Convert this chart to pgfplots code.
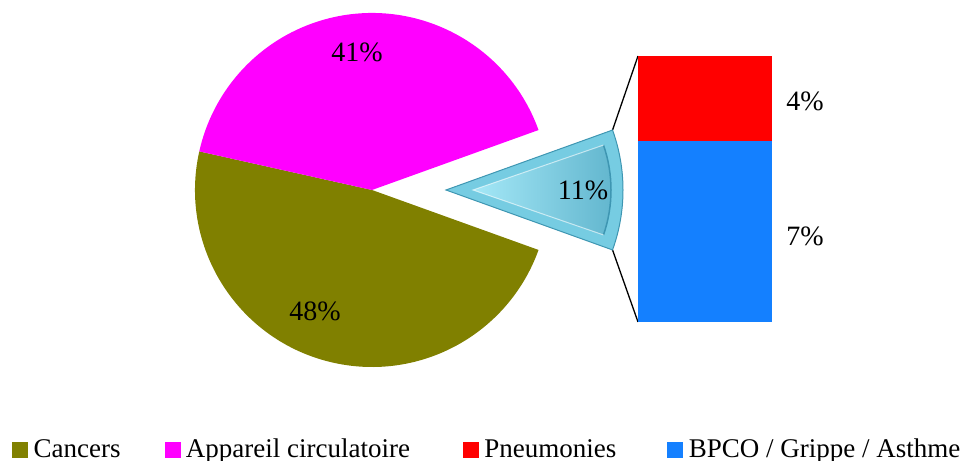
\documentclass[border=0pt]{standalone}
\usepackage{fontspec}
\setmainfont{Liberation Serif}
\usepackage{pgfplots}
\usepackage{pgfplotstable}
\pgfplotsset{compat=1.18}
\definecolor{cOlive}{RGB}{128,128,0}
\definecolor{cMag}{RGB}{255,0,255}
\definecolor{cRed}{RGB}{255,0,0}
\definecolor{cBlue}{RGB}{20,128,255}
\definecolor{cCyan}{RGB}{118,204,226}
\definecolor{cCyanD}{RGB}{62,150,178}
\definecolor{cCyanL}{RGB}{165,232,247}
\definecolor{cCyanR}{RGB}{98,182,206}

\pgfplotstableread{
label value
Cancers 48
Circulatoire 41
Respiratoire 11
}\piedata

\begin{document}
\begin{tikzpicture}[font=\fontsize{27bp}{32bp}\selectfont]
\useasboundingbox (0,0) rectangle (966bp,461bp);
\pgfplotstablegetelem{0}{value}\of\piedata \let\vA\pgfplotsretval
\pgfplotstablegetelem{1}{value}\of\piedata \let\vB\pgfplotsretval
\pgfplotstablegetelem{2}{value}\of\piedata \let\vC\pgfplotsretval
\pgfmathsetmacro\aC{1.8*\vC}
\pgfmathsetmacro\aB{\aC+3.6*\vB}
\pgfmathsetmacro\aA{\aB+3.6*\vA}
\pgfmathsetmacro\aCi{\aC-0.8}
\begin{axis}[at={(0,0)}, anchor=south west, width=966bp, height=461bp,
  scale only axis, xmin=0, xmax=966, ymin=0, ymax=461, hide axis, clip=false,
  legend columns=4,
  legend style={at={(axis cs:12,4)}, anchor=base west, draw=none, fill=none,
    inner sep=0pt, column sep=0pt, cells={anchor=base west},
    nodes={inner sep=0pt, font=\fontsize{27bp}{32bp}\selectfont},
    /tikz/every odd column/.append style={column sep=6bp}}]
\addlegendimage{legend image code/.code={\fill[cOlive] (0bp,0bp) rectangle (15bp,15bp);}}
\addlegendentry{\makebox[131bp][l]{Cancers}}
\addlegendimage{legend image code/.code={\fill[cMag] (0bp,0bp) rectangle (15bp,15bp);}}
\addlegendentry{\makebox[277bp][l]{Appareil circulatoire}}
\addlegendimage{legend image code/.code={\fill[cRed] (0bp,0bp) rectangle (15bp,15bp);}}
\addlegendentry{\makebox[183bp][l]{Pneumonies}}
\addlegendimage{legend image code/.code={\fill[cBlue] (0bp,0bp) rectangle (15bp,15bp);}}
\addlegendentry{BPCO / Grippe / Asthme}
% pie slices
\fill[cOlive] (axis cs:372,271) -- ++(\aB:177bp) arc[start angle=\aB, end angle=\aA, radius=177bp] -- cycle;
\fill[cMag] (axis cs:372,271) -- ++(\aC:177bp) arc[start angle=\aC, end angle=\aB, radius=177bp] -- cycle;
% connector lines
\draw[black, line width=1.3bp] (axis cs:446,271) ++(\aC:177bp) -- (axis cs:638,405);
\draw[black, line width=1.3bp] (axis cs:446,271) ++(-\aC:177bp) -- (axis cs:638,139);
% exploded slice
\fill[cCyan, draw=cCyanD, line width=1bp] (axis cs:446,271) -- ++(-\aC:177bp) arc[start angle=-\aC, end angle=\aC, radius=177bp] -- cycle;
\shade[left color=cCyanL, right color=cCyanR] (axis cs:473,271) -- ++(-\aCi:138bp) arc[start angle=-\aCi, end angle=\aCi, radius=138bp] -- cycle;
\draw[cCyanD, line width=1.5bp] (axis cs:473,271) ++(-\aCi:138bp) arc[start angle=-\aCi, end angle=\aCi, radius=138bp];
\draw[white, opacity=0.6, line width=1bp] (axis cs:473,271) ++(\aCi:138bp) -- (axis cs:473,271) -- ++(-\aCi:138bp);
% labels
\node[font=\fontsize{28bp}{32bp}\selectfont] at (axis cs:357,409) {41\%};
\node[font=\fontsize{28bp}{32bp}\selectfont] at (axis cs:315,150) {48\%};
\node[font=\fontsize{28bp}{32bp}\selectfont] at (axis cs:583,271) {11\%};
\node[font=\fontsize{28bp}{32bp}\selectfont] at (axis cs:805,360) {4\%};
\node[font=\fontsize{28bp}{32bp}\selectfont] at (axis cs:805,225) {7\%};
\end{axis}
\begin{axis}[at={(638bp,139bp)}, anchor=south west, width=134bp, height=266bp,
  scale only axis, hide axis, ybar stacked, bar width=1,
  xmin=-0.5, xmax=0.5, ymin=0, ymax=11, enlargelimits=false]
\addplot[fill=cBlue, draw=none] coordinates {(0,7.48)};
\addplot[fill=cRed, draw=none] coordinates {(0,3.52)};
\end{axis}
\end{tikzpicture}
\end{document}
